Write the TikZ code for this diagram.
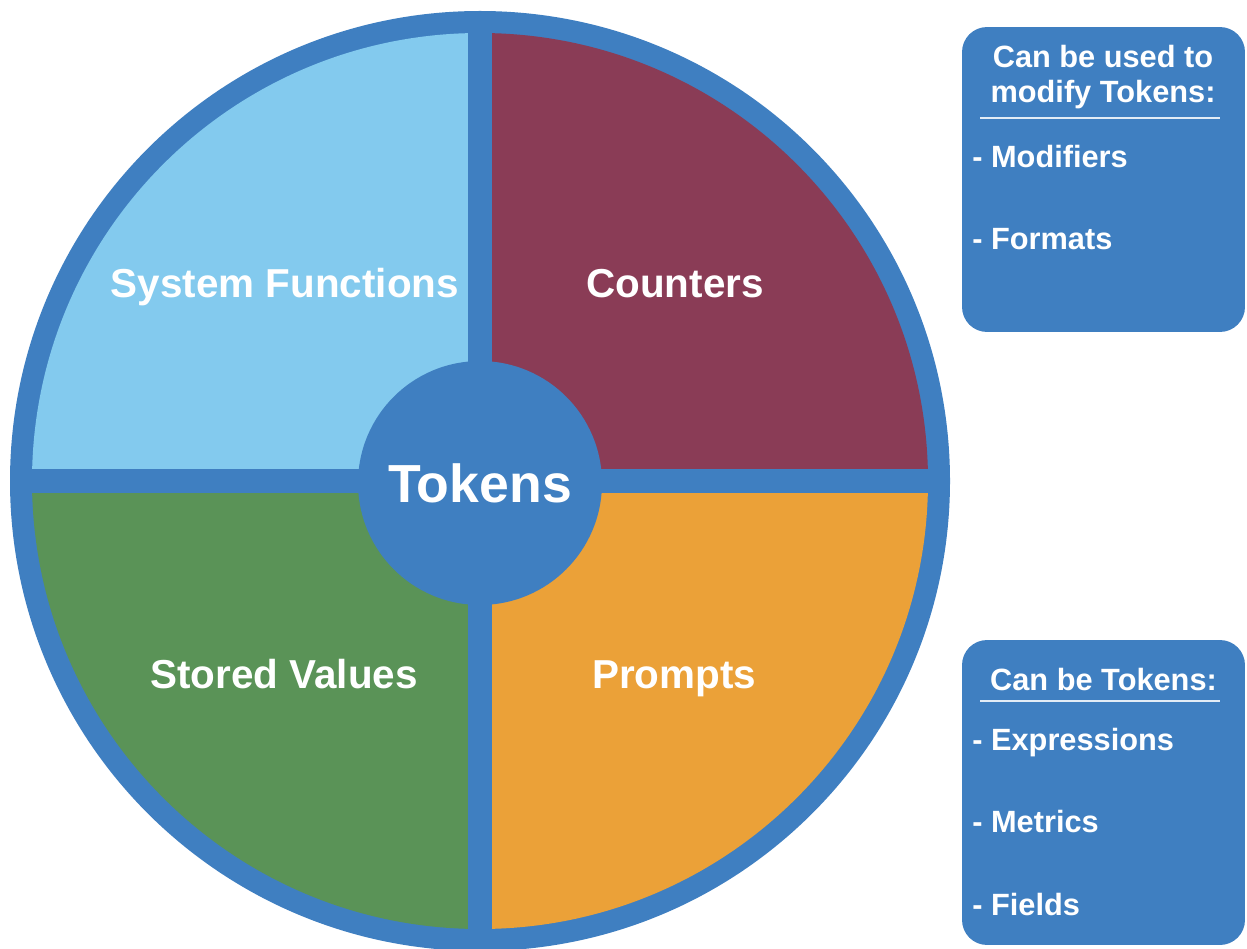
\documentclass[tikz,border=0pt]{standalone}
\usepackage{fontspec}
\setmainfont{Liberation Sans}
\usetikzlibrary{positioning}
\definecolor{TKBlue}{HTML}{3F7FC1}
\definecolor{TKSky}{HTML}{83CAEE}
\definecolor{TKWine}{HTML}{8A3C56}
\definecolor{TKGreen}{HTML}{5A9357}
\definecolor{TKOrange}{HTML}{EBA138}

\begin{document}
\begin{tikzpicture}[
  x=0.02cm,y=0.02cm,
  quad/.style={font=\bfseries\fontsize{23}{27}\selectfont,text=white,anchor=base,inner sep=0pt},
  hub/.style={circle,fill=TKBlue,minimum size=4.88cm,inner sep=0pt,font=\bfseries\fontsize{30.5}{34}\selectfont,text=white},
  bar/.style={draw=TKBlue,line width=0.48cm},
  infobox/.style={rounded corners=0.5cm,fill=TKBlue,minimum width=5.66cm,minimum height=6.1cm,inner sep=0pt},
  head/.style={font=\bfseries\fontsize{17.5}{20.4}\selectfont,text=white,align=center,anchor=base,inner sep=0pt},
  item/.style={font=\bfseries\fontsize{17.5}{20.4}\selectfont,text=white,anchor=base west,inner sep=0pt},
  rule/.style={draw=white!85!TKBlue,line width=0.8pt}
]
\useasboundingbox (0,0) rectangle (1247,948);
% the wheel
\coordinate (c) at (480,467);
\fill[TKBlue] (c) circle[radius=470];
\fill[TKSky] (c) -- ++(-448,0) arc[start angle=180,end angle=90,radius=448] -- cycle;
\fill[TKWine] (c) -- ++(0,448) arc[start angle=90,end angle=0,radius=448] -- cycle;
\fill[TKOrange] (c) -- ++(448,0) arc[start angle=0,end angle=-90,radius=448] -- cycle;
\fill[TKGreen] (c) -- ++(0,-448) arc[start angle=-90,end angle=-180,radius=448] -- cycle;
\coordinate (top) at (480,937);
\coordinate (bot) at (480,-3);
\coordinate (lft) at (10,467);
\coordinate (rgt) at (950,467);
\draw[bar] (top) -- (bot);
\draw[bar] (lft) -- (rgt);
\node[hub] (tok) at (480,465) {Tokens};
\node[quad] (sys) at (285,650) {System Functions};
\node[quad] (cnt) at (675,650) {Counters};
\node[quad] (sto) at (284,260) {Stored Values};
\node[quad] (prm) at (674,260) {Prompts};
% side boxes
\node[infobox] (modbox) at (1103.5,768.5) {};
\node[head] (modhd) at (1103,845) {Can be used to\\modify Tokens:};
\coordinate (modl) at (980,830);
\coordinate (modr) at (1220,830);
\draw[rule] (modl) -- (modr);
\node[item] (mod1) at (972,780) {- Modifiers};
\node[item] (mod2) at (972,698) {- Formats};
\node[infobox] (tkbox) at (1103.5,155.5) {};
\node[head] (tkhd) at (1103.5,258) {Can be Tokens:};
\coordinate (tkl) at (980,247);
\coordinate (tkr) at (1220,247);
\draw[rule] (tkl) -- (tkr);
\node[item] (tk1) at (972,198) {- Expressions};
\node[item] (tk2) at (972,116) {- Metrics};
\node[item] (tk3) at (972,33) {- Fields};
\end{tikzpicture}
\end{document}
